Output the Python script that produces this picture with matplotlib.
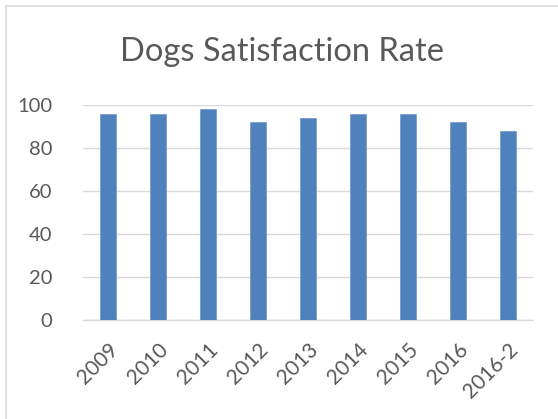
import matplotlib
matplotlib.use("Agg")
import matplotlib.pyplot as plt
from matplotlib.patches import Rectangle

categories = ["2009", "2010", "2011", "2012", "2013", "2014", "2015", "2016", "2016-2"]
values = [96, 96, 98, 92, 94, 96, 96, 92, 88]
yticks = [0, 20, 40, 60, 80, 100]
title = "Dogs Satisfaction Rate"

W, H = 558, 419
fig = plt.figure(figsize=(W / 100, H / 100), dpi=100)
plt.rcParams['font.family'] = ['Lato', 'DejaVu Sans']

# outer chart border
fig.patches.append(Rectangle((6 / W, 0 - 0.01), 1.1, 1 - 6 / H + 0.01,
                             transform=fig.transFigure, fill=False,
                             edgecolor="#d9d9d9", linewidth=1.2))

ax = fig.add_axes([83 / W, 1 - 320 / H, 450 / W, 215 / H])
x = list(range(len(categories)))
ax.bar(x, values, width=0.31, color="#4f81bd", edgecolor="#6f97c8", linewidth=0.5, zorder=3)
ax.set_xlim(-0.5, len(categories) - 0.5)
ax.set_ylim(0, 100)
ax.set_yticks(yticks)
ax.set_yticklabels([str(v) for v in yticks])
ax.grid(axis="y", color="#d9d9d9", linewidth=1.0, zorder=0)
for s in ["top", "right", "left"]:
    ax.spines[s].set_visible(False)
ax.spines["bottom"].set_color("#d9d9d9")
ax.spines["bottom"].set_linewidth(1.0)
ax.tick_params(axis="both", length=0, colors="#595959", labelsize=14.5)
ax.tick_params(axis="y", pad=22)
ax.set_xticks(x)
ax.set_xticklabels(categories, rotation=45, ha="right", va="top", rotation_mode="anchor",
                   fontsize=15)
ax.tick_params(axis="x", pad=14)

fig.text((128 + 437) / 2 / W, 1 - 52 / H, title, ha="center", va="center",
         fontsize=23.5, color="#595959")

fig.savefig("out.png", dpi=100)
